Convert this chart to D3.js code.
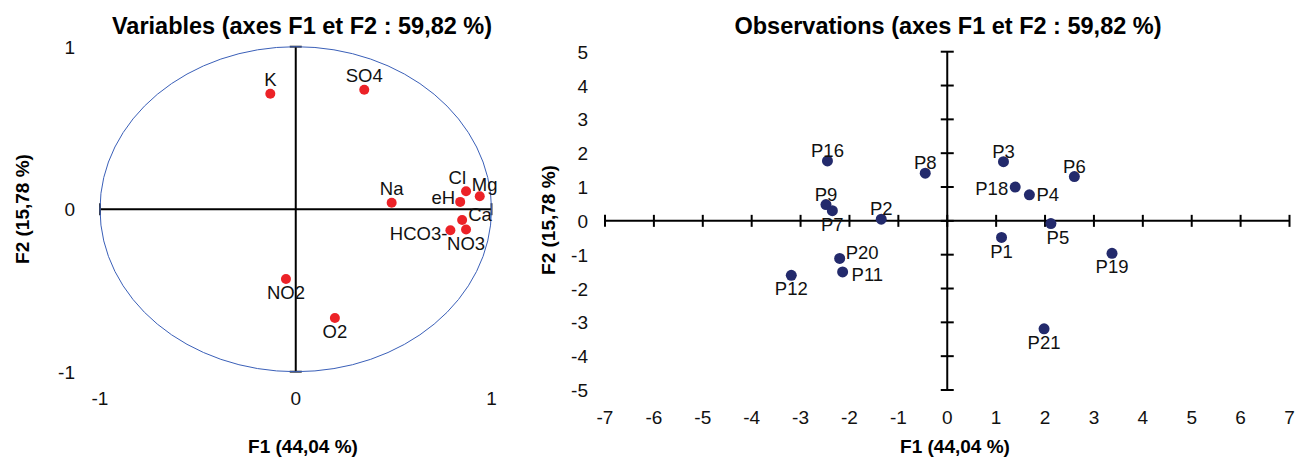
<!DOCTYPE html>
<html>
<head>
<meta charset="utf-8">
<script src="https://cdn.jsdelivr.net/npm/d3@7"></script>
<style>
  html, body { margin: 0; padding: 0; background: #fff; }
  svg { display: block; font-family: "Liberation Sans", Arial, sans-serif; }
</style>
</head>
<body>
<svg id="chart" width="1298" height="457"></svg>
<script>
// ---- Data: variables (correlation circle) ----
const varNames = ["K", "SO4", "Na", "Cl", "Mg", "eH", "Ca", "HCO3-", "NO3", "NO2", "O2"];
const varF1 = [-0.13, 0.35, 0.49, 0.87, 0.94, 0.84, 0.85, 0.79, 0.87, -0.05, 0.20];
const varF2 = [0.71, 0.735, 0.04, 0.11, 0.08, 0.045, -0.066, -0.13, -0.125, -0.43, -0.67];
const varLabelPos = ["above", "above", "above", "aboveleft", "aboveright", "leftup", "rightup", "leftdown", "below", "below", "below"];

// ---- Data: observations ----
const obsNames = ["P16", "P8", "P9", "P7", "P2", "P3", "P18", "P4", "P6", "P5", "P1", "P19", "P21", "P20", "P11", "P12"];
const obsF1 = [-2.45, -0.45, -2.48, -2.35, -1.35, 1.15, 1.39, 1.68, 2.60, 2.12, 1.11, 3.37, 1.98, -2.20, -2.14, -3.19];
const obsF2 = [1.77, 1.41, 0.48, 0.30, 0.05, 1.75, 1.00, 0.77, 1.31, -0.08, -0.49, -0.96, -3.19, -1.11, -1.51, -1.61];
const obsLabelPos = ["above", "above", "above", "below", "above", "above", "left", "right", "above", "belowright", "below", "below", "below", "rightup", "rightdown", "below"];

// ---- Tick values ----
const varTicks = [-1, 0, 1];
const obsXTicks = [-7, -6, -5, -4, -3, -2, -1, 0, 1, 2, 3, 4, 5, 6, 7];
const obsYTicks = [-5, -4, -3, -2, -1, 0, 1, 2, 3, 4, 5];

const titleLeft = "Variables (axes F1 et F2 : 59,82 %)";
const titleRight = "Observations (axes F1 et F2 : 59,82 %)";
const xTitle = "F1 (44,04 %)";
const yTitle = "F2 (15,78 %)";

const svg = d3.select("#chart");
const LABEL_FS = 18.5, TICK_FS = 19, TITLE_FS = 23.5, AXT_FS = 19;

// label placement: offsets of the label centre from the point, by code
function placeLabels(sel, aboveGap) {
  const table = {
    above:      { dx: 0,  dy: -aboveGap, a: "middle" },
    below:      { dx: 0,  dy: 13.5, a: "middle" },
    left:       { dx: -7, dy: 1,  a: "end" },
    right:      { dx: 7,  dy: 0,  a: "start" },
    rightdown:  { dx: 9,  dy: 2,  a: "start" },
    aboveleft:  { dx: 0,  dy: -14, a: "end" },
    aboveright: { dx: -8, dy: -12, a: "start" },
    rightup:    { dx: 6,  dy: -6, a: "start" },
    leftup:     { dx: -5, dy: -5, a: "end" },
    leftdown:   { dx: -3, dy: 3,  a: "end" },
    belowright: { dx: 7,  dy: 13.5, a: "middle" }
  };
  sel.each(function(d) {
    const o = table[d.pos];
    d3.select(this)
      .attr("x", d.px + o.dx)
      .attr("y", d.py + o.dy + LABEL_FS * 0.36)
      .attr("text-anchor", o.a);
  });
}

// ================= LEFT: Variables =================
{
  const x = d3.scaleLinear().domain([-1, 1]).range([100, 491.5]);
  const y = d3.scaleLinear().domain([-1, 1]).range([371.7, 46.7]);
  const g = svg.append("g");

  g.append("line").attr("x1", x(-1)).attr("x2", x(1)).attr("y1", y(0)).attr("y2", y(0))
    .attr("stroke", "#000").attr("stroke-width", 2);
  g.append("line").attr("x1", x(0)).attr("x2", x(0)).attr("y1", y(-1)).attr("y2", y(1))
    .attr("stroke", "#000").attr("stroke-width", 2);
  [-1, 1].forEach(v => {
    g.append("line").attr("x1", x(v)).attr("x2", x(v)).attr("y1", y(0) - 6).attr("y2", y(0) + 6)
      .attr("stroke", "#333").attr("stroke-width", 2);
    g.append("line").attr("x1", x(0) - 6).attr("x2", x(0) + 6).attr("y1", y(v)).attr("y2", y(v))
      .attr("stroke", "#333").attr("stroke-width", 2);
  });

  g.append("ellipse").attr("cx", x(0)).attr("cy", y(0))
    .attr("rx", x(1) - x(0)).attr("ry", y(0) - y(1))
    .attr("fill", "none").attr("stroke", "#3a5fb8").attr("stroke-width", 1);

  g.selectAll(".xt").data(varTicks).join("text")
    .attr("x", d => x(d)).attr("y", 405).attr("text-anchor", "middle")
    .attr("font-size", TICK_FS).attr("fill", "#111").text(d => d);
  g.selectAll(".yt").data(varTicks).join("text")
    .attr("x", 75).attr("y", d => y(d) + 7).attr("text-anchor", "end")
    .attr("font-size", TICK_FS).attr("fill", "#111").text(d => d);

  const pts = varNames.map((n, i) => ({ name: n, px: x(varF1[i]), py: y(varF2[i]), pos: varLabelPos[i] }));
  g.selectAll(".pt").data(pts).join("circle")
    .attr("cx", d => d.px).attr("cy", d => d.py).attr("r", 5).attr("fill", "#ec2227");
  g.selectAll(".lb").data(pts).join("text")
    .attr("font-size", LABEL_FS).attr("fill", "#111").text(d => d.name)
    .call(placeLabels, 14);

  g.append("text").attr("x", 302).attr("y", 34).attr("text-anchor", "middle")
    .attr("font-size", TITLE_FS).attr("font-weight", "bold").text(titleLeft);
  g.append("text").attr("x", 303).attr("y", 453).attr("text-anchor", "middle")
    .attr("font-size", AXT_FS).attr("font-weight", "bold").text(xTitle);
  g.append("text").attr("transform", "translate(29,209) rotate(-90)").attr("text-anchor", "middle")
    .attr("font-size", AXT_FS).attr("font-weight", "bold").text(yTitle);
}

// ================= RIGHT: Observations =================
{
  const x = d3.scaleLinear().domain([-7, 7]).range([605, 1289.5]);
  const y = d3.scaleLinear().domain([-5, 5]).range([390, 51.7]);
  const g = svg.append("g");

  g.append("line").attr("x1", x(-7)).attr("x2", x(7)).attr("y1", y(0)).attr("y2", y(0))
    .attr("stroke", "#000").attr("stroke-width", 2);
  g.append("line").attr("x1", x(0)).attr("x2", x(0)).attr("y1", y(-5)).attr("y2", y(5))
    .attr("stroke", "#000").attr("stroke-width", 2);

  g.selectAll(".xtick").data(obsXTicks).join("line")
    .attr("x1", d => x(d)).attr("x2", d => x(d)).attr("y1", y(0) - 6).attr("y2", y(0) + 6)
    .attr("stroke", "#000").attr("stroke-width", 2);
  g.selectAll(".ytick").data(obsYTicks).join("line")
    .attr("x1", x(0) - 6.5).attr("x2", x(0) + 6.5).attr("y1", d => y(d)).attr("y2", d => y(d))
    .attr("stroke", "#000").attr("stroke-width", 2);

  g.selectAll(".xt").data(obsXTicks).join("text")
    .attr("x", d => x(d)).attr("y", 424).attr("text-anchor", "middle")
    .attr("font-size", TICK_FS).attr("fill", "#111").text(d => d);
  g.selectAll(".yt").data(obsYTicks).join("text")
    .attr("x", 588).attr("y", d => y(d) + 7).attr("text-anchor", "end")
    .attr("font-size", TICK_FS).attr("fill", "#111").text(d => d);

  const pts = obsNames.map((n, i) => ({ name: n, px: x(obsF1[i]), py: y(obsF2[i]), pos: obsLabelPos[i] }));
  g.selectAll(".pt").data(pts).join("circle")
    .attr("cx", d => d.px).attr("cy", d => d.py).attr("r", 5.5).attr("fill", "#232a6c");
  g.selectAll(".lb").data(pts).join("text")
    .attr("font-size", LABEL_FS).attr("fill", "#111").text(d => d.name)
    .call(placeLabels, 10.5);

  g.append("text").attr("x", 948).attr("y", 34).attr("text-anchor", "middle")
    .attr("font-size", TITLE_FS).attr("font-weight", "bold").text(titleRight);
  g.append("text").attr("x", 955).attr("y", 453).attr("text-anchor", "middle")
    .attr("font-size", AXT_FS).attr("font-weight", "bold").text(xTitle);
  g.append("text").attr("transform", "translate(555,220) rotate(-90)").attr("text-anchor", "middle")
    .attr("font-size", AXT_FS).attr("font-weight", "bold").text(yTitle);
}
</script>
</body>
</html>
